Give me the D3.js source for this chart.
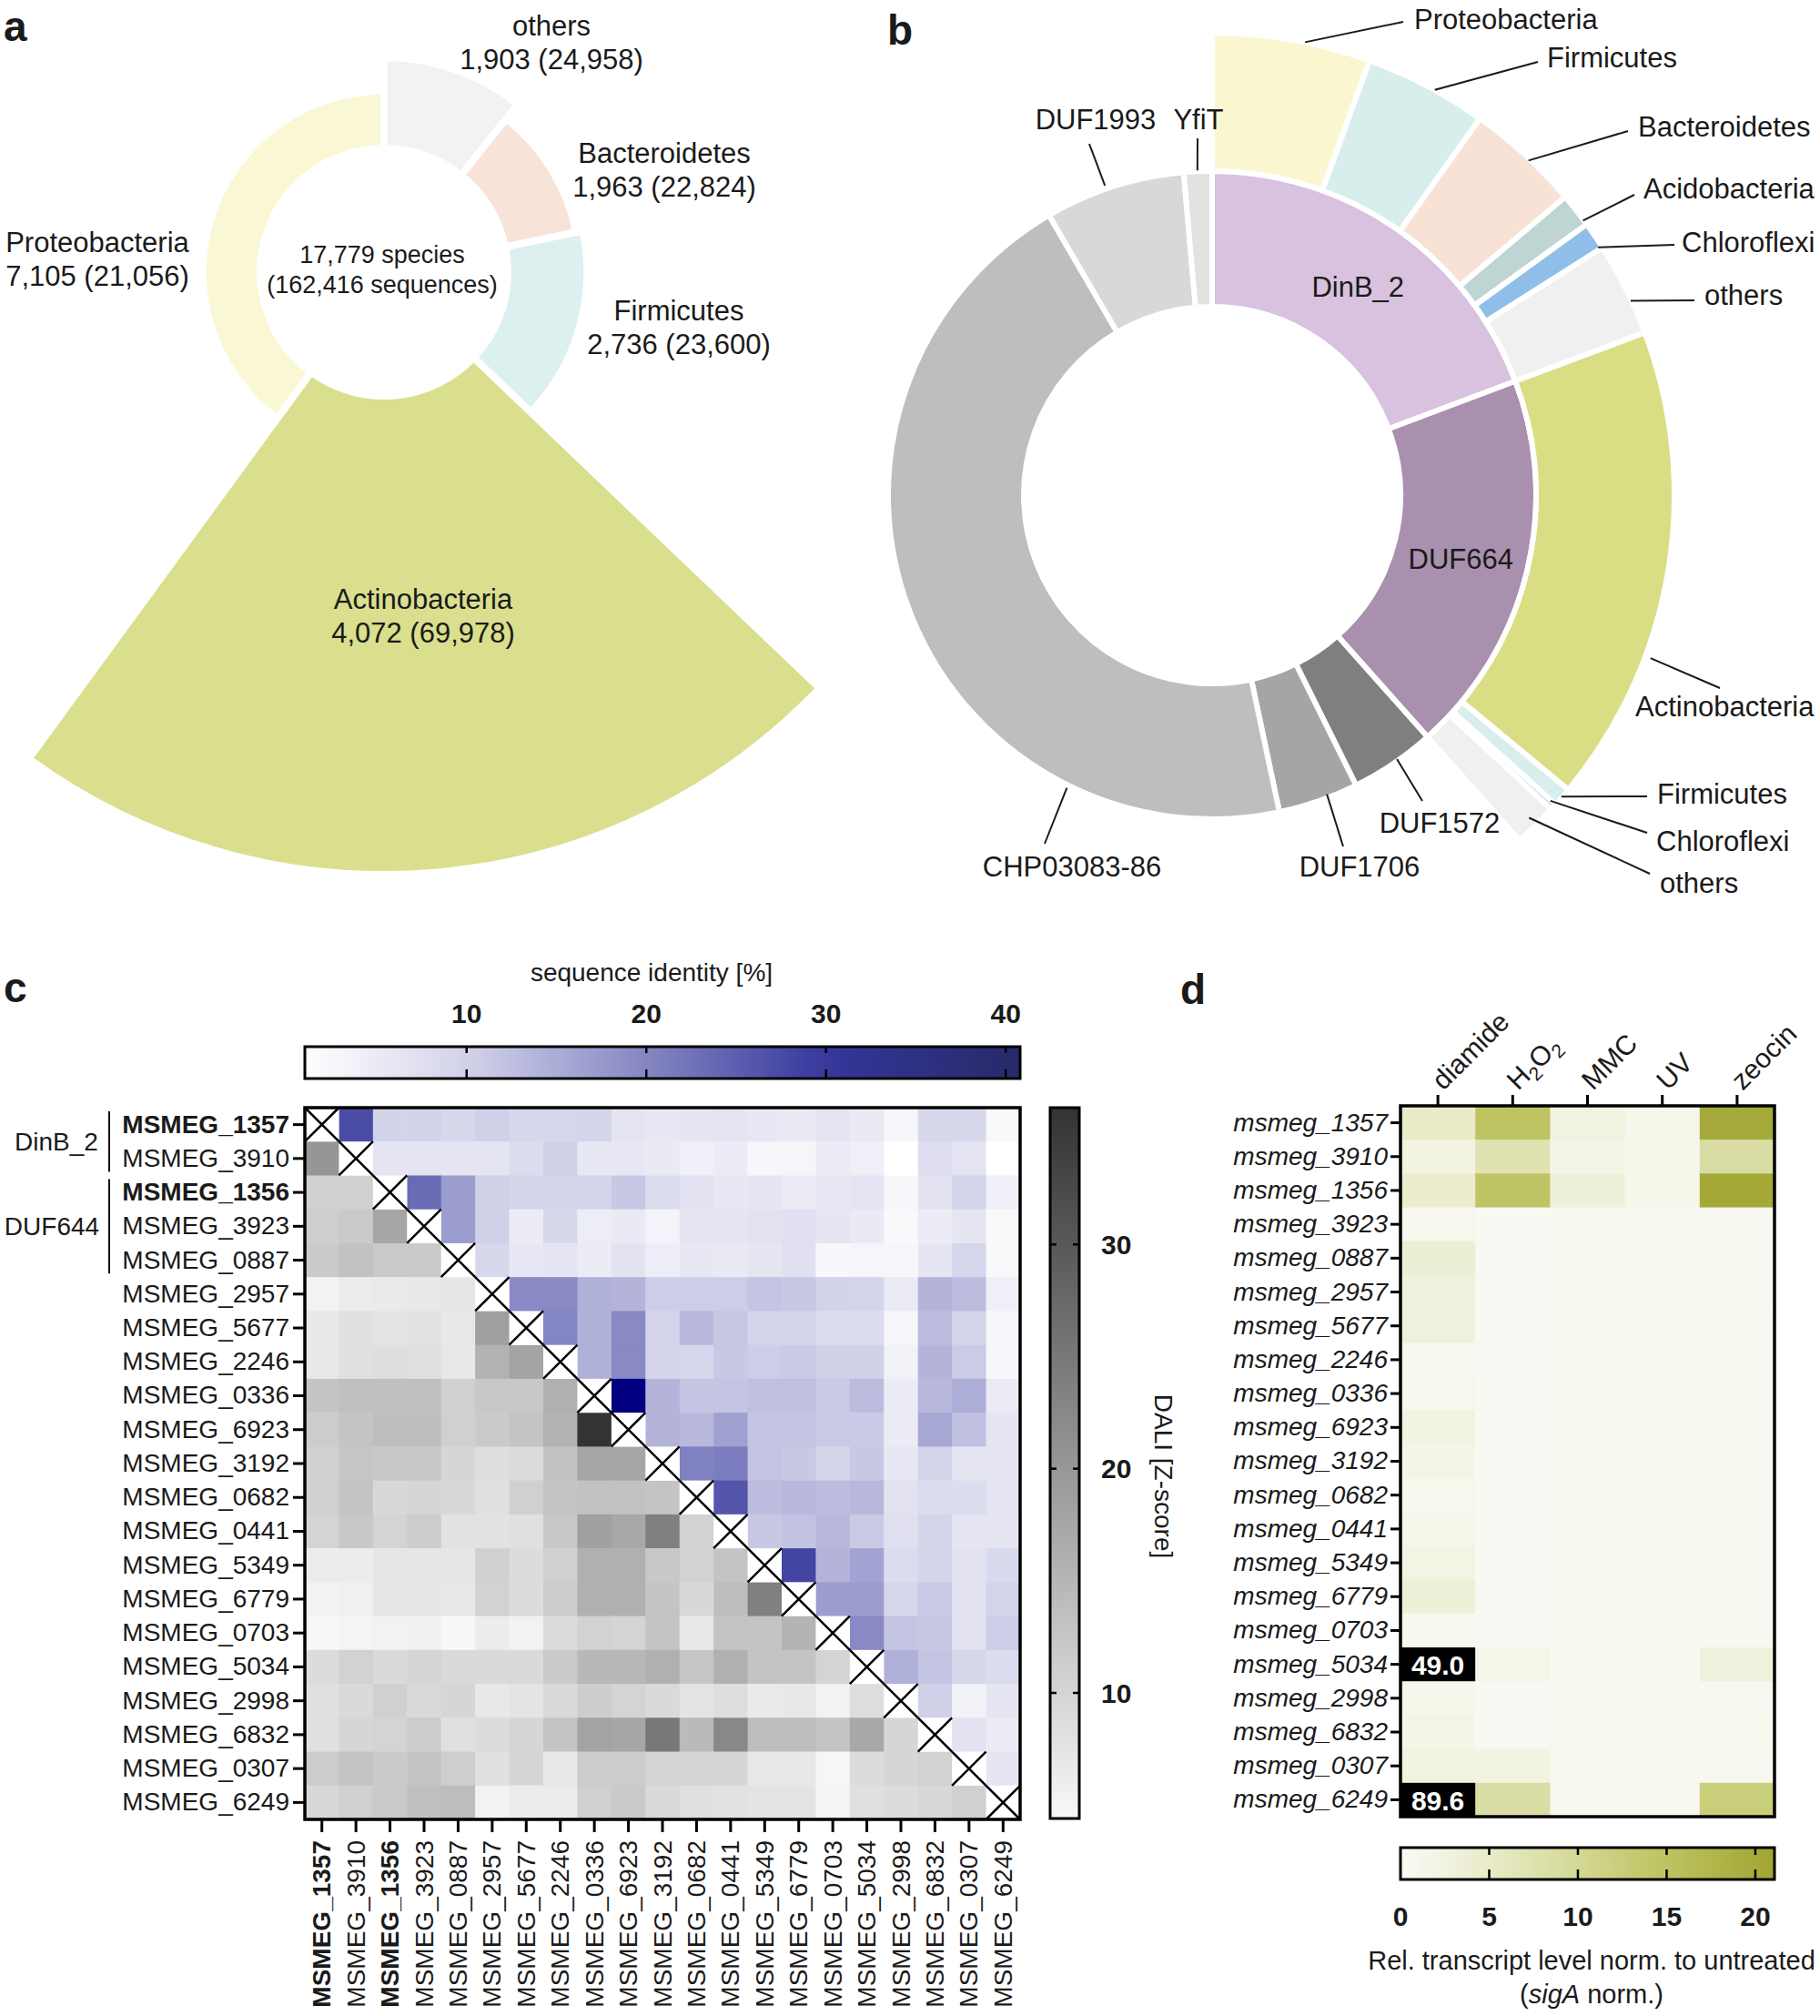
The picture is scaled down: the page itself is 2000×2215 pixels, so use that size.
<!DOCTYPE html>
<html><head><meta charset="utf-8">
<script src="https://cdn.jsdelivr.net/npm/d3@7"></script>
<style>
body{margin:0;background:#fff}
svg{display:block}
text{font-family:"Liberation Sans",Arial,Helvetica,sans-serif;fill:#1a1a1a}
</style>
</head><body>
<svg id="fig" width="2000" height="2215"></svg>
<script>
// ================= DATA =================
// Panel a
const phylaA = ["others","Bacteroidetes","Firmicutes","Actinobacteria","Proteobacteria"];
const speciesA = [1903,1963,2736,4072,7105];
const sequencesA = [24958,22824,23600,69978,21056];
const colorsA = ["#f2f2f2","#f8e3d9","#dcf0ef","#d9df8d","#faf7d5"];
const totalSpecies = 17779, totalSequences = 162416;

// Panel b
const familiesB = ["DinB_2","DUF664","DUF1572","DUF1706","CHP03083-86","DUF1993","YfiT"];
const familyShareB = [19.28,19.14,4.25,4.0,44.93,7.0,1.4];
const familyColorsB = ["#d8c2df","#a990ae","#7f7f7f","#a5a5a5","#bebebe","#d8d8d8","#e2e2e2"];
const phylaB = ["Proteobacteria","Firmicutes","Bacteroidetes","Acidobacteria","Chloroflexi","others","Actinobacteria","Firmicutes","Chloroflexi","others"];
const phylaShareB = [5.53,4.31,4.0,1.2,0.97,3.27,16.72,0.67,0.22,1.53];
const phylaColorsB = ["#faf7d0","#d8eeed","#f8e2d6","#bfd5d3","#8fbfe8","#f0f0f0","#d9de85","#d8eeed","#8fbfe8","#f0f0f0"];

// Panel c
const genes = ["1357","3910","1356","3923","0887","2957","5677","2246","0336","6923","3192","0682","0441","5349","6779","0703","5034","2998","6832","0307","6249"];
const boldGenes = ["1357","1356"];
const identityTicks = [10,20,30,40];
const daliTicks = [10,20,30];
// sequence identity [%], row i -> columns i+1..20
const identityUpper = [
 [27.3,9.8,9.8,8.8,10.3,9.2,9.2,9.6,6.4,5.6,6,6.4,5.6,5.2,6.4,5.2,2.8,8.8,8.8,2.2],
 [6.4,6.4,6.4,6.4,8,10.3,5.6,5.6,5.2,4,4.8,2.6,3,4.8,4.2,1,7.6,6.4,1],
 [23.4,17,10.3,9.6,9.6,9.6,11.3,8,6.8,5.6,6,4.8,5.6,6.4,2.6,6.8,9.6,4],
 [17,10.3,4.8,8.8,4.6,5.2,3.4,6,6.4,6.8,7.2,6,5.2,2.2,4.8,6,2.2],
 [8.8,5.6,6.4,4.8,6.8,4.6,5.6,5.2,6,7.2,2.4,3,2.6,6,9.2,2.2],
 [19.6,19.6,14.4,13.9,10.6,10.6,10.6,11.8,11.3,10,9.6,5,13.9,12.9,4.2],
 [20.1,14.4,19.6,9.6,13.4,11.3,9.6,9.6,8,8,2.8,12.9,9.6,3],
 [14.4,19.6,9.6,9.2,11.3,10.6,11,10.3,10.3,3.8,13.9,10.9,2.4],
 [45,13.9,11.8,11.8,12.5,12.5,11,12.9,4.8,13.4,14.8,5],
 [13.9,13.4,16.4,11.8,11.8,11,11,5,15.6,12.3,6],
 [20.6,21.1,11.8,11.3,9.6,11.3,5.6,9.6,6,6],
 [26.1,12.9,13.4,12.9,13.4,6.8,8,8,6.4],
 [11.3,12.1,13.4,11,7.2,9.6,6.4,6],
 [28.1,13.9,16.2,8,9.6,6.8,8.4],
 [17,17,9.2,11,6.8,9.6],
 [19.6,11.8,11.3,6.8,10.6],
 [14.4,11.8,8.8,8],
 [10.3,3.6,6],
 [6.8,4.8],
 [6]
];
// DALI Z-score, row i -> columns 0..i-1
const daliLower = [
 [],
 [20.2],
 [10.8,10.8],
 [11.2,11.8,17.6],
 [11.8,13.1,11.8,11.8],
 [5.4,6.3,6.7,7,7.3],
 [7,8.3,7.6,7.9,7,18.6],
 [7,8.3,8.6,8.3,7,15.7,17.9],
 [12.8,13.4,13.4,13.4,10.8,12.1,12.1,16],
 [11.5,12.8,13.7,13.7,10.8,11.8,12.8,15.7,36.1],
 [10.8,12.4,12.1,12.1,9.9,8.6,8.9,13.1,17.6,17.6],
 [10.8,12.8,9.5,9.9,9.5,8.3,10.8,12.8,13.1,13.1,12.8],
 [10.2,12.1,10.2,11.5,7.9,7.9,8.3,12.1,18.6,17.3,23.7,10.5],
 [6.3,6.3,7.3,7.3,7.3,10.8,8.9,10.8,16,16,12.1,10.5,12.8],
 [5.4,5.7,7.3,7.3,7,10.5,8.9,11.5,16,16,12.8,9.5,13.7,23.7],
 [4.4,5,5.4,5.7,4.4,6.3,5.4,8.9,10.5,10.2,12.8,7,12.8,12.8,15.3],
 [8.9,10.5,9.2,9.9,9.2,9.2,9.2,11.8,14.7,14.7,16,12.4,16,12.8,12.8,10.2],
 [8.3,9.2,10.8,9.2,9.9,7,7.6,9.2,11.3,10.2,9.2,7.6,8.6,6.7,7,5.4,8.6],
 [8.3,9.9,10.2,11.5,8.3,8.9,9.9,12.8,17.9,17.6,25,14.4,22.4,13.9,13.9,12.8,17.3,9.9],
 [11.5,12.8,11.8,12.8,11.2,8.3,9.9,7,11.5,11.5,10.2,10.2,9.9,7,7,4.7,8.9,9.9,10.5],
 [9.5,10.8,11.8,13.4,13.9,5.4,6.3,6.3,10.8,11.8,9.2,8.3,7.9,7.6,7.6,5,8.3,8.9,9.5,10.8]
];

// Panel d
const treatments = ["diamide","H2O2","MMC","UV","zeocin"];
const diamide = [5,2.6,4.5,0.9,3.8,2.9,2.9,0.6,0.9,2.4,1.8,0.9,1.2,2,3.5,0.6,49.0,1.2,1.8,2.6,89.6];
const h2o2    = [14.8,7.3,14.5,0.5,0.5,0.5,0.5,0.5,0.5,0.5,0.5,0.5,0.5,0.5,0.5,0.5,1.5,0.5,0.5,2.3,8.4];
const mmc     = [2.6,1.8,3.2,0.6,0.6,0.6,0.6,0.6,0.6,0.6,0.6,0.6,0.6,0.6,0.6,0.6,0.6,0.6,0.6,0.6,1.0];
const uv      = [1.2,1.2,1.2,0.6,0.6,0.6,0.8,0.6,0.6,0.6,0.6,0.6,0.6,0.6,0.6,0.6,0.6,0.6,0.8,0.6,1.0];
const zeocin  = [20,8.6,20.5,0.6,0.6,0.6,0.6,0.6,0.6,0.6,0.6,0.6,0.6,0.6,0.6,0.6,2.9,0.6,1.0,0.6,12.5];
const transcriptTicks = [0,5,10,15,20];

// ================= DRAW =================
const svg = d3.select("#fig");
const fmt = d3.format(",");
const rad = a => a*Math.PI/180;

// panel letters
[["a",4,45],["b",975,49],["c",4,1101],["d",1297,1103]].forEach(([t,x,y])=>{
  svg.append("text").attr("x",x).attr("y",y).attr("font-size",46).attr("font-weight","bold").text(t);
});

// ---------- Panel a ----------
(function(){
  const cx=422, cy=299, r0=136;
  const rA = d3.scaleLinear().domain([0,d3.max(sequencesA)]).range([0,662]);
  const pie = d3.pie().value(d=>d).sort(null)(speciesA);
  const g = svg.append("g").attr("transform",`translate(${cx},${cy})`);
  g.selectAll("path").data(pie).join("path")
    .attr("d",(d,i)=>d3.arc().innerRadius(r0).outerRadius(rA(sequencesA[i]))(d))
    .attr("fill",(d,i)=>colorsA[i]).attr("stroke","#fff").attr("stroke-width",8).attr("stroke-linejoin","miter");
  const labelPos = [[606,28],[730,168],[746,341],[465,658],[107,266]];
  phylaA.forEach((p,i)=>{
    const t = svg.append("text").attr("font-size",31).attr("text-anchor","middle");
    t.append("tspan").attr("x",labelPos[i][0]).attr("y",labelPos[i][1]).attr("dominant-baseline","central").text(p);
    t.append("tspan").attr("x",labelPos[i][0]).attr("y",labelPos[i][1]+37).attr("dominant-baseline","central")
      .text(`${fmt(speciesA[i])} (${fmt(sequencesA[i])})`);
  });
  const c = svg.append("text").attr("font-size",27).attr("text-anchor","middle");
  c.append("tspan").attr("x",cx-2).attr("y",280).attr("dominant-baseline","central").text(`${fmt(totalSpecies)} species`);
  c.append("tspan").attr("x",cx-2).attr("y",313).attr("dominant-baseline","central").text(`(${fmt(totalSequences)} sequences)`);
})();

// ---------- Panel b ----------
(function(){
  const cx=1332, cy=544, r0=207, r1=356, r2=508;
  const ang = d3.scaleLinear().domain([0,d3.sum(familyShareB)]).range([0,2*Math.PI]);
  let cum=0;
  const fam = familiesB.map((f,i)=>{const s=cum; cum+=familyShareB[i]; return {name:f,startAngle:ang(s),endAngle:ang(cum),color:familyColorsB[i]};});
  cum=0;
  const phy = phylaB.map((p,i)=>{const s=cum; cum+=phylaShareB[i]; return {name:p,startAngle:ang(s),endAngle:ang(cum),color:phylaColorsB[i]};});
  const g = svg.append("g").attr("transform",`translate(${cx},${cy})`);
  const arcIn = d3.arc().innerRadius(r0).outerRadius(r1);
  const arcOut = d3.arc().innerRadius(r1).outerRadius(r2);
  g.selectAll("path.fam").data(fam).join("path").attr("class","fam").attr("d",arcIn)
    .attr("fill",d=>d.color).attr("stroke","#fff").attr("stroke-width",6);
  g.selectAll("path.phy").data(phy).join("path").attr("class","phy").attr("d",arcOut)
    .attr("fill",d=>d.color).attr("stroke","#fff").attr("stroke-width",6);
  [0,1].forEach(i=>{
    const c = arcIn.centroid(fam[i]);
    g.append("text").attr("x",c[0]).attr("y",c[1]+3).attr("text-anchor","middle").attr("dominant-baseline","central")
      .attr("font-size",31).text(fam[i].name);
  });
  const pt = (a,r)=>[cx+r*Math.sin(rad(a)), cy-r*Math.cos(rad(a))];
  const phyCallouts = [
    [0,11.6,508,[1542,24],1554,21,"start"],
    [1,28.8,508,[1690,68],1700,63,"start"],
    [2,43.4,506,[1789,144],1800,139,"start"],
    [3,53.5,507,[1796,214],1806,207,"start"],
    [4,57.3,504,[1840,269],1848,266,"start"],
    [5,65.1,507,[1862,330],1873,324,"start"],
    [6,110.4,514,[1890,756],1797,776,"start"],
    [7,130.8,507,[1810,875],1821,872,"start"],
    [8,132.1,501,[1810,915],1820,924,"start"],
    [9,135.5,497,[1813,960],1824,970,"start"]
  ];
  phyCallouts.forEach(([i,a,r,e,tx,ty,anc])=>{
    const s = pt(a,r);
    svg.append("line").attr("x1",s[0]).attr("y1",s[1]).attr("x2",e[0]).attr("y2",e[1]).attr("stroke","#1a1a1a").attr("stroke-width",2);
    svg.append("text").attr("x",tx).attr("y",ty).attr("dominant-baseline","central").attr("text-anchor",anc).attr("font-size",31).text(phylaB[i]);
  });
  const famCallouts = [
    [2,145,354,[1563,880],1582,904],
    [3,159,352,[1476,930],1494,952],
    [4,206.4,359,[1148,927],1178,952],
    [5,340.9,360,[1197,158],1204,131],
    [6,357.4,357,[1316,152],1317,131]
  ];
  famCallouts.forEach(([i,a,r,e,tx,ty])=>{
    const s = pt(a,r);
    svg.append("line").attr("x1",s[0]).attr("y1",s[1]).attr("x2",e[0]).attr("y2",e[1]).attr("stroke","#1a1a1a").attr("stroke-width",2);
    svg.append("text").attr("x",tx).attr("y",ty).attr("dominant-baseline","central").attr("text-anchor","middle").attr("font-size",31).text(familiesB[i]);
  });
})();

// ---------- Panel c ----------
(function(){
  const x = d3.scaleBand().domain(genes).range([335,1121]);
  const y = d3.scaleBand().domain(genes).range([1217,1999]);
  const blue = d3.scaleLinear().domain([1,10,20,30,40.8,45])
     .range(["#ffffff","#d2d2ea","#8586c3","#35369b","#272a68","#000080"]).clamp(true);
  const gray = d3.scaleLinear().domain([4.4,36.1]).range(["#f8f8f8","#333333"]).clamp(true);
  const cells = [];
  genes.forEach((r,i)=>{
    (identityUpper[i]||[]).forEach((v,k)=>cells.push({r,c:genes[i+1+k],color:blue(v)}));
    (daliLower[i]||[]).forEach((v,k)=>cells.push({r,c:genes[k],color:gray(v)}));
  });
  const g = svg.append("g");
  g.selectAll("rect.cell").data(cells).join("rect").attr("class","cell")
    .attr("x",d=>x(d.c)).attr("y",d=>y(d.r)).attr("width",x.bandwidth()+0.6).attr("height",y.bandwidth()+0.6)
    .attr("fill",d=>d.color);
  genes.forEach(gn=>{
    g.append("rect").attr("x",x(gn)).attr("y",y(gn)).attr("width",x.bandwidth()).attr("height",y.bandwidth()).attr("fill","#fff");
  });
  genes.forEach(gn=>{
    const x0=x(gn), y0=y(gn), w=x.bandwidth(), h=y.bandwidth();
    g.append("path").attr("d",`M${x0},${y0}L${x0+w},${y0+h}M${x0+w},${y0}L${x0},${y0+h}`)
      .attr("stroke","#000").attr("stroke-width",2.5).attr("fill","none");
  });
  g.append("rect").attr("x",335).attr("y",1217).attr("width",786).attr("height",782)
    .attr("fill","none").attr("stroke","#000").attr("stroke-width",3.5);
  const ax = svg.append("g").attr("transform","translate(335,0)")
    .call(d3.axisLeft(y).tickSize(13).tickPadding(4).tickFormat(d=>"MSMEG_"+d));
  ax.select(".domain").remove();
  ax.selectAll(".tick line").attr("stroke","#000").attr("stroke-width",3);
  ax.selectAll(".tick text").attr("font-size",28).attr("fill","#111")
    .attr("font-family",'"Liberation Sans",Arial,sans-serif')
    .attr("font-weight",d=>boldGenes.includes(d)?"bold":"normal");
  const bx = svg.append("g").attr("transform","translate(0,1999)")
    .call(d3.axisBottom(x).tickSize(14).tickPadding(4).tickFormat(d=>"MSMEG_"+d));
  bx.select(".domain").remove();
  bx.selectAll(".tick line").attr("stroke","#000").attr("stroke-width",3);
  bx.selectAll(".tick text").attr("font-size",28).attr("fill","#111")
    .attr("font-family",'"Liberation Sans",Arial,sans-serif')
    .attr("font-weight",d=>boldGenes.includes(d)?"bold":"normal")
    .attr("transform","rotate(-90)").attr("text-anchor","end").attr("dominant-baseline","central")
    .attr("x",-23).attr("y",0).attr("dy",null);
  [["DinB_2",0,1,62],["DUF644",2,4,57]].forEach(([t,a,b,tx])=>{
    const y1=y(genes[a])+4, y2=y(genes[b])+y.bandwidth()-4;
    svg.append("line").attr("x1",120).attr("x2",120).attr("y1",y1).attr("y2",y2).attr("stroke","#111").attr("stroke-width",2);
    svg.append("text").attr("x",tx).attr("y",(y1+y2)/2).attr("text-anchor","middle").attr("dominant-baseline","central")
      .attr("font-size",28).text(t);
  });
  const defs = svg.append("defs");
  const cbx = d3.scaleLinear().domain([1,40.8]).range([335,1121]);
  const gb = defs.append("linearGradient").attr("id","gBlue");
  d3.range(0,1.0001,0.05).forEach(t=>gb.append("stop").attr("offset",t).attr("stop-color",blue(1+t*39.8)));
  svg.append("rect").attr("x",335).attr("y",1150).attr("width",786).attr("height",35)
    .attr("fill","url(#gBlue)").attr("stroke","#000").attr("stroke-width",3);
  identityTicks.forEach(v=>{
    const xx=cbx(v);
    svg.append("line").attr("x1",xx).attr("x2",xx).attr("y1",1150).attr("y2",1157).attr("stroke","#000").attr("stroke-width",2.5);
    svg.append("line").attr("x1",xx).attr("x2",xx).attr("y1",1175).attr("y2",1185).attr("stroke","#000").attr("stroke-width",2.5);
    svg.append("text").attr("x",xx).attr("y",1124).attr("text-anchor","middle").attr("font-size",30).attr("font-weight","bold").text(v);
  });
  svg.append("text").attr("x",716).attr("y",1078).attr("text-anchor","middle").attr("font-size",28).text("sequence identity [%]");
  const cby = d3.scaleLinear().domain([4.4,36.1]).range([1998,1217]);
  const gg = defs.append("linearGradient").attr("id","gGray").attr("x1",0).attr("x2",0).attr("y1",1).attr("y2",0);
  d3.range(0,1.0001,0.05).forEach(t=>gg.append("stop").attr("offset",t).attr("stop-color",gray(4.4+t*31.7)));
  svg.append("rect").attr("x",1154).attr("y",1217).attr("width",32).attr("height",781)
    .attr("fill","url(#gGray)").attr("stroke","#000").attr("stroke-width",3);
  daliTicks.forEach(v=>{
    const yy=cby(v);
    svg.append("line").attr("x1",1154).attr("x2",1161).attr("y1",yy).attr("y2",yy).attr("stroke","#000").attr("stroke-width",2.5);
    svg.append("line").attr("x1",1179).attr("x2",1186).attr("y1",yy).attr("y2",yy).attr("stroke","#000").attr("stroke-width",2.5);
    svg.append("text").attr("x",1210).attr("y",yy).attr("dominant-baseline","central").attr("font-size",30).attr("font-weight","bold").text(v);
  });
  svg.append("text").attr("transform","translate(1278,1622) rotate(90)").attr("text-anchor","middle")
    .attr("dominant-baseline","central").attr("font-size",28).text("DALI [Z-score]");
})();

// ---------- Panel d ----------
(function(){
  const series = [diamide,h2o2,mmc,uv,zeocin];
  const x = d3.scaleBand().domain(treatments).range([1539,1950]);
  const y = d3.scaleBand().domain(genes).range([1215,1996]);
  const green = d3.scaleLinear().domain([0,5,10,15,21.08])
    .range(["#fafaf6","#e9ebc9","#d3d895","#bdc35f","#a0a532"]).clamp(true);
  const cells=[];
  treatments.forEach((t,j)=>series[j].forEach((v,i)=>cells.push({t,g:genes[i],v})));
  const g = svg.append("g");
  g.selectAll("rect").data(cells).join("rect")
    .attr("x",d=>x(d.t)).attr("y",d=>y(d.g)).attr("width",x.bandwidth()+0.6).attr("height",y.bandwidth()+0.6)
    .attr("fill",d=>d.v>21.08?"#000":green(d.v));
  g.selectAll("text.val").data(cells.filter(d=>d.v>21.08)).join("text").attr("class","val")
    .attr("x",d=>x(d.t)+x.bandwidth()/2).attr("y",d=>y(d.g)+y.bandwidth()/2+1)
    .attr("text-anchor","middle").attr("dominant-baseline","central").attr("font-size",30).attr("font-weight","bold")
    .style("fill","#fff").text(d=>d.v.toFixed(1));
  svg.append("rect").attr("x",1539).attr("y",1215).attr("width",411).attr("height",781)
    .attr("fill","none").attr("stroke","#000").attr("stroke-width",3.5);
  const ax = svg.append("g").attr("transform","translate(1539,0)")
    .call(d3.axisLeft(y).tickSize(11).tickPadding(3).tickFormat(d=>"msmeg_"+d));
  ax.select(".domain").remove();
  ax.selectAll(".tick line").attr("stroke","#000").attr("stroke-width",3);
  ax.selectAll(".tick text").attr("font-size",28).attr("font-style","italic").attr("fill","#111")
    .attr("font-family",'"Liberation Sans",Arial,sans-serif');
  const tx = svg.append("g").attr("transform","translate(0,1215)")
    .call(d3.axisTop(x).tickSize(12).tickFormat(""));
  tx.select(".domain").remove();
  tx.selectAll(".tick line").attr("stroke","#000").attr("stroke-width",3);
  treatments.forEach(t=>{
    const cxp = x(t)+x.bandwidth()/2;
    const te = svg.append("text").attr("transform",`translate(${cxp+6},1199) rotate(-45)`).attr("font-size",30);
    if(t==="H2O2"){
      te.append("tspan").text("H");
      te.append("tspan").attr("font-size",21).attr("dy",7).text("2");
      te.append("tspan").attr("dy",-7).text("O");
      te.append("tspan").attr("font-size",21).attr("dy",7).text("2");
    } else te.text(t);
  });
  const cbx = d3.scaleLinear().domain([0,21.08]).range([1539,1950]);
  const gr = svg.append("defs").append("linearGradient").attr("id","gGreen");
  d3.range(0,1.0001,0.05).forEach(t=>gr.append("stop").attr("offset",t).attr("stop-color",green(t*21.08)));
  svg.append("rect").attr("x",1539).attr("y",2030).attr("width",411).attr("height",35)
    .attr("fill","url(#gGreen)").attr("stroke","#000").attr("stroke-width",3);
  transcriptTicks.forEach(v=>{
    const xx=cbx(v);
    if(v>0){
      svg.append("line").attr("x1",xx).attr("x2",xx).attr("y1",2030).attr("y2",2038).attr("stroke","#000").attr("stroke-width",2.5);
      svg.append("line").attr("x1",xx).attr("x2",xx).attr("y1",2054).attr("y2",2065).attr("stroke","#000").attr("stroke-width",2.5);
    }
    svg.append("text").attr("x",xx).attr("y",2116).attr("text-anchor","middle").attr("font-size",30).attr("font-weight","bold").text(v);
  });
  svg.append("text").attr("x",1749).attr("y",2164).attr("text-anchor","middle").attr("font-size",29).text("Rel. transcript level norm. to untreated");
  const t2 = svg.append("text").attr("x",1749).attr("y",2201).attr("text-anchor","middle").attr("font-size",29);
  t2.append("tspan").text("(");
  t2.append("tspan").attr("font-style","italic").text("sigA");
  t2.append("tspan").text(" norm.)");
})();
</script>
</body></html>
